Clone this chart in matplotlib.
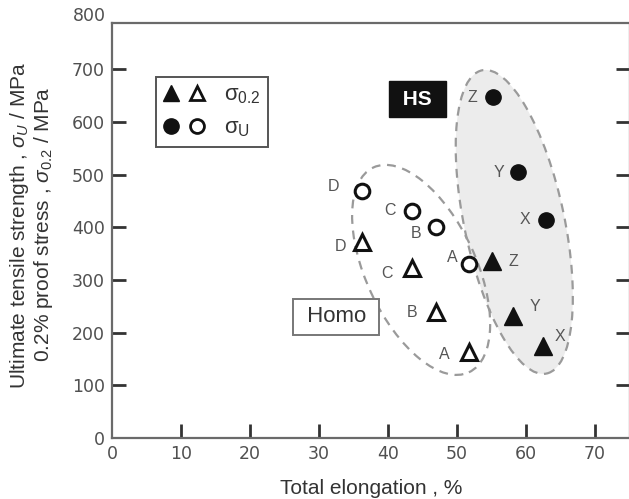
"""Strength vs elongation scatter: homogeneous (Homo) vs heterostructured (HS) samples."""

import matplotlib

matplotlib.use("Agg")
import matplotlib.pyplot as plt
import matplotlib.transforms as mtransforms
from matplotlib.legend_handler import HandlerTuple
from matplotlib.lines import Line2D
from matplotlib.patches import Ellipse

plt.rcParams["font.family"] = ["Liberation Sans", "DejaVu Sans"]
plt.rcParams["mathtext.fontset"] = "custom"
plt.rcParams["mathtext.rm"] = "Liberation Sans"
plt.rcParams["mathtext.it"] = "Liberation Sans:italic"

# --- Data --------------------------------------------------------------------
homo_labels = ["A", "B", "C", "D"]
homo_elong = [51.7, 47.0, 43.5, 36.3]
homo_ys = [163, 239, 323, 372]          # 0.2% proof stress
homo_uts = [330, 400, 431, 469]         # ultimate tensile strength

hs_labels = ["X", "Y", "Z"]
hs_elong_ys = [62.5, 58.1, 55.1]
hs_ys = [175, 231, 336]
hs_elong_uts = [62.9, 58.8, 55.2]
hs_uts = [414, 505, 647]

# label offsets in pixels (dx, dy)
homo_ys_off = [(-24, -2), (-24, 0), (-25, -6), (-22, -5)]
homo_uts_off = [(-16, 7), (-20, -6), (-22, 0), (-29, 4)]
hs_ys_off = [(17, 9), (22, 10), (21, -1)]
hs_uts_off = [(-21, 0), (-19, -1), (-21, 0)]

x_ticks = [0, 10, 20, 30, 40, 50, 60, 70]
y_ticks = [0, 100, 200, 300, 400, 500, 600, 700]

MK = "#111111"
AX = "#6a6a6a"
TICK_FONT = ["DejaVu Sans"]

W, H = 629, 499
fig = plt.figure(figsize=(W / 100, H / 100), dpi=100)
ax = fig.add_axes([112 / W, (H - 438) / H, (630 - 112) / W, (438 - 23) / H])
ax.set_xlim(0, 75.07)
ax.set_ylim(0, 787.5)

for sp in ax.spines.values():
    sp.set_color(AX)
    sp.set_linewidth(1.6)

ax.set_xticks(x_ticks)
ax.set_yticks(y_ticks)
ax.tick_params(direction="in", length=10, width=2, color="#333333",
               labelsize=12.5, labelcolor="#505050", pad=5)
ax.tick_params(axis="y", right=True, labelright=False)
for lab in ax.get_xticklabels() + ax.get_yticklabels():
    lab.set_family(TICK_FONT)
# hide the tick marks that sit on the corner
ax.xaxis.get_major_ticks()[0].tick1line.set_visible(False)
ax.yaxis.get_major_ticks()[0].tick1line.set_visible(False)
ax.yaxis.get_major_ticks()[0].tick2line.set_visible(False)
ax.text(-0.012, 800, "800", transform=ax.get_yaxis_transform(), ha="right",
        va="center", fontsize=12.5, color="#505050", family=TICK_FONT, clip_on=False)

# --- Group ellipses (drawn in pixel space so the tilt is not skewed) ---------
def group_ellipse(cx, cy, w_px, h_px, angle, **kw):
    px, py = ax.transData.transform((cx, cy))
    e = Ellipse((px, py), w_px, h_px, angle=angle,
                transform=mtransforms.IdentityTransform(), **kw)
    ax.add_artist(e)

group_ellipse(58.3, 410, 100, 310, 12, facecolor="#ececec", edgecolor="#9a9a9a",
              lw=1.6, ls=(0, (4, 3)), zorder=1)
group_ellipse(44.8, 319, 110, 226, 25, facecolor="none", edgecolor="#9a9a9a",
              lw=1.6, ls=(0, (4, 3)), zorder=1)

# --- Points -------------------------------------------------------------------
ax.plot(homo_elong, homo_ys, ls="none", marker="^", ms=11, mfc="white",
        mec=MK, mew=2.2, zorder=3)
ax.plot(homo_elong, homo_uts, ls="none", marker="o", ms=10.5, mfc="white",
        mec=MK, mew=2.2, zorder=3)
ax.plot(hs_elong_ys, hs_ys, ls="none", marker="^", ms=12.5, color=MK, zorder=3)
ax.plot(hs_elong_uts, hs_uts, ls="none", marker="o", ms=11, color=MK, zorder=3)

def tag(xs, ys, names, offs):
    for x, y, n, (dx, dy) in zip(xs, ys, names, offs):
        ax.annotate(n, (x, y), xytext=(dx, dy), textcoords="offset pixels",
                    ha="center", va="center", fontsize=11.5, color="#555555")

tag(homo_elong, homo_ys, homo_labels, homo_ys_off)
tag(homo_elong, homo_uts, homo_labels, homo_uts_off)
tag(hs_elong_ys, hs_ys, hs_labels, hs_ys_off)
tag(hs_elong_uts, hs_uts, hs_labels, hs_uts_off)

# --- Group tags ---------------------------------------------------------------
ax.text(44.3, 643, " HS ", ha="center", va="center", fontsize=15, fontweight="bold",
        color="white", bbox=dict(boxstyle="square,pad=0.4", fc="#111111", ec="#111111"))
ax.text(32.5, 230, " Homo ", ha="center", va="center", fontsize=16, color="#333333",
        bbox=dict(boxstyle="square,pad=0.33", fc="white", ec="#777777", lw=1.4))

# --- Legend -------------------------------------------------------------------
h_tri = (Line2D([], [], ls="none", marker="^", ms=11, color=MK),
         Line2D([], [], ls="none", marker="^", ms=10, mfc="white", mec=MK, mew=2.0))
h_circ = (Line2D([], [], ls="none", marker="o", ms=11, color=MK),
          Line2D([], [], ls="none", marker="o", ms=10, mfc="white", mec=MK, mew=2.0))
leg = ax.legend([h_tri, h_circ], [r"σ$_{\mathrm{0.2}}$", r"σ$_{\mathrm{U}}$"],
                handler_map={tuple: HandlerTuple(ndivide=None, pad=0.55)},
                loc="upper left", bbox_to_anchor=(156 / W, 1 - 77 / H),
                bbox_transform=fig.transFigure, borderaxespad=0, fancybox=False,
                framealpha=1, edgecolor="#555555", fontsize=16, handlelength=1.8,
                handletextpad=0.9, labelspacing=0.5, borderpad=0.35)
leg.get_frame().set_linewidth(1.4)
for t in leg.get_texts():
    t.set_color("#333333")

# --- Axis titles --------------------------------------------------------------
fig.text(371 / W, 1 - 489 / H, "Total elongation , %", ha="center", va="center",
         fontsize=15, color="#333333")
fig.text(20 / W, 1 - 225 / H, r"Ultimate tensile strength , $\mathit{\sigma_U}$ / MPa",
         rotation=90, ha="center", va="center", fontsize=15, color="#333333")
fig.text(44 / W, 1 - 224 / H, r"0.2% proof stress , $\mathit{\sigma_{0.2}}$ / MPa",
         rotation=90, ha="center", va="center", fontsize=15, color="#333333")

fig.savefig("out.png", dpi=100)
